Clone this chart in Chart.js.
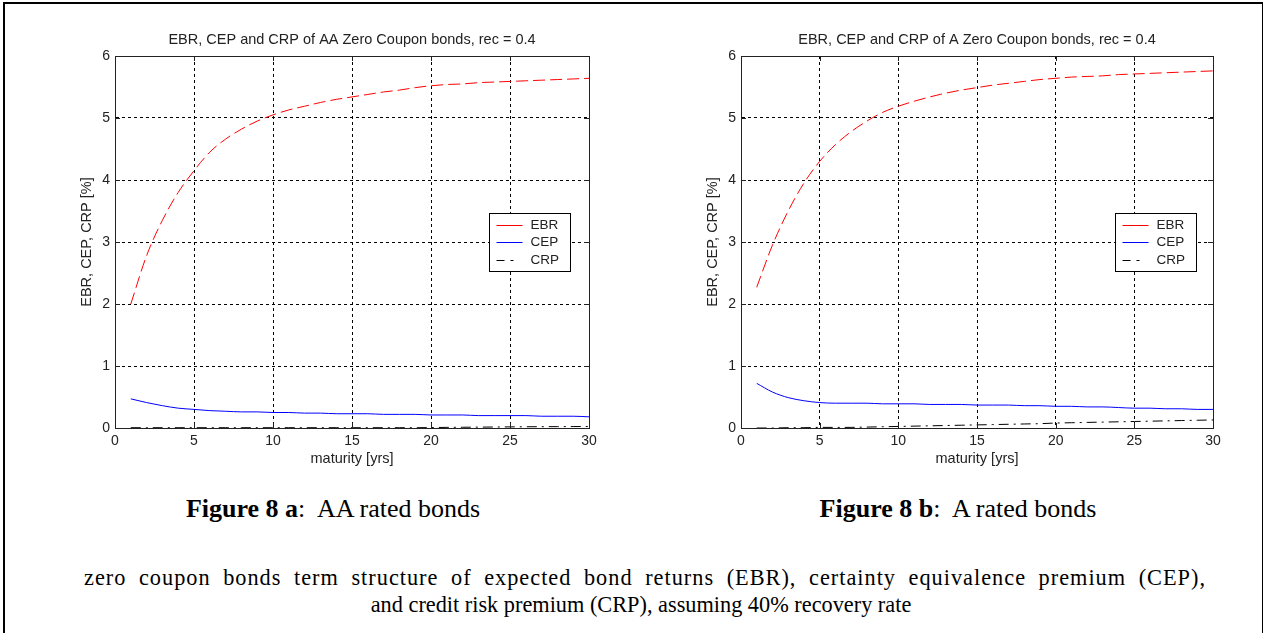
<!DOCTYPE html>
<html>
<head>
<meta charset="utf-8">
<script src="https://cdn.jsdelivr.net/npm/chart.js@4/dist/chart.umd.min.js"></script>
<style>
  body { margin:0; background:#fff; width:1266px; height:633px; position:relative; overflow:hidden; }
  #frame { position:absolute; left:3px; top:2px; width:1257px; height:640px;
           border-left:2px solid #000; border-top:2px solid #000; border-right:1px solid #000; }
  canvas { position:absolute; }
  #c1 { left:40px; top:20px; }
  #c2 { left:666px; top:20px; }
  .cap { position:absolute; font-family:"Times New Roman","Liberation Serif",serif; font-size:22.3px;
         color:#000; white-space:nowrap; }
  .mid { transform:translateX(-50%); }
  .fig { font-size:26px; top:494px; }
  #line1 { left:84px; width:1122px; top:565px; white-space:normal; letter-spacing:1px;
           text-align:justify; text-align-last:justify; }
</style>
</head>
<body>
<div id="frame"></div>
<canvas id="c1" width="624" height="460"></canvas>
<canvas id="c2" width="622" height="460"></canvas>
<div class="cap mid fig" style="left:333px;"><b>Figure 8 a</b>:&nbsp; AA rated bonds</div>
<div class="cap mid fig" style="left:958px;"><b>Figure 8 b</b>:&nbsp; A rated bonds</div>
<div class="cap" id="line1">zero coupon bonds term structure of expected bond returns (EBR), certainty equivalence premium (CEP),</div>
<div class="cap mid" style="left:641px; top:592px;">and credit risk premium (CRP), assuming 40% recovery rate</div>

<script>
// data
const maturities = [1,2,3,4,5,6,7,8,9,10,11,12,13,14,15,16,17,18,19,20,21,22,23,24,25,26,27,28,29,30];
const seriesNames = ['EBR', 'CEP', 'CRP'];

const aaEbr = [2.00,2.78,3.35,3.80,4.15,4.45,4.66,4.82,4.95,5.05,5.13,5.19,5.25,5.30,5.34,5.38,5.42,5.45,5.49,5.52,5.54,5.55,5.57,5.58,5.59,5.60,5.61,5.62,5.63,5.64];
const aaCep = [0.47,0.41,0.36,0.32,0.30,0.28,0.27,0.26,0.26,0.25,0.25,0.24,0.24,0.23,0.23,0.23,0.22,0.22,0.22,0.21,0.21,0.21,0.20,0.20,0.20,0.20,0.19,0.19,0.19,0.18];
const aaCrp = [0.005,0.005,0.005,0.005,0.005,0.005,0.005,0.005,0.005,0.005,0.005,0.005,0.005,0.005,0.005,0.005,0.005,0.005,0.005,0.007,0.01,0.012,0.014,0.016,0.018,0.02,0.021,0.022,0.023,0.025];

const aEbr = [2.27,2.95,3.50,3.95,4.30,4.57,4.78,4.95,5.09,5.19,5.27,5.34,5.40,5.45,5.49,5.53,5.56,5.59,5.62,5.64,5.66,5.67,5.68,5.70,5.71,5.72,5.73,5.74,5.75,5.76];
const aCep = [0.72,0.58,0.49,0.44,0.41,0.40,0.40,0.40,0.39,0.39,0.39,0.38,0.38,0.38,0.37,0.37,0.37,0.36,0.36,0.35,0.35,0.34,0.34,0.33,0.32,0.32,0.31,0.31,0.30,0.30];
const aCrp = [0.00,0.00,0.005,0.005,0.01,0.01,0.01,0.015,0.02,0.025,0.03,0.035,0.04,0.045,0.05,0.055,0.06,0.065,0.07,0.08,0.085,0.09,0.095,0.10,0.105,0.11,0.115,0.12,0.125,0.13];

const xTicks = [0,5,10,15,20,25,30];
const yTicks = [0,1,2,3,4,5,6];

const sansFont = '"Liberation Sans", Arial, Helvetica, sans-serif';
const lineColors = ['#ff0000', '#0000ff', '#000000'];
const legendDash = [[], [], [8, 6, 3, 20]];

function pts(vals) {
  return maturities.map((m, i) => ({x: m, y: vals[i]}));
}

// title over the plot area, box round it, inward ticks and the legend inside
const matlabAxes = {
  id: 'matlabAxes',
  afterDraw(chart, args, opts) {
    const ctx = chart.ctx;
    const a = chart.chartArea;
    const xs = chart.scales.x, ys = chart.scales.y;
    ctx.save();

    ctx.fillStyle = '#222';
    ctx.font = '14.5px ' + sansFont;
    ctx.textAlign = 'center';
    ctx.textBaseline = 'middle';
    ctx.fillText(opts.title, (a.left + a.right) / 2, 20);
    ctx.textAlign = 'left';

    ctx.strokeStyle = '#222';
    ctx.lineWidth = 1;
    ctx.setLineDash([]);
    ctx.strokeRect(Math.round(a.left) + 0.5, Math.round(a.top) + 0.5,
                   Math.round(a.right - a.left), Math.round(a.bottom - a.top));
    ctx.beginPath();
    xTicks.forEach(v => {
      const px = Math.round(xs.getPixelForValue(v)) + 0.5;
      ctx.moveTo(px, a.bottom); ctx.lineTo(px, a.bottom - 5);
      ctx.moveTo(px, a.top); ctx.lineTo(px, a.top + 5);
    });
    yTicks.forEach(v => {
      const py = Math.round(ys.getPixelForValue(v)) + 0.5;
      ctx.moveTo(a.left, py); ctx.lineTo(a.left + 5, py);
      ctx.moveTo(a.right, py); ctx.lineTo(a.right - 5, py);
    });
    ctx.stroke();

    // legend
    const w = 81, h = 58;
    const lx = Math.round(a.right - opts.right - w) + 0.5;
    const ly = Math.round(a.top + 157) + 0.5;
    ctx.fillStyle = '#fff';
    ctx.fillRect(lx, ly, w, h);
    ctx.strokeStyle = '#000';
    ctx.strokeRect(lx, ly, w, h);
    ctx.font = '13.5px ' + sansFont;
    chart.data.datasets.forEach((ds, i) => {
      const y = Math.round(ly + 11 + i * 17.5) + 0.5;
      ctx.strokeStyle = lineColors[i];
      ctx.setLineDash(legendDash[i]);
      ctx.beginPath();
      ctx.moveTo(lx + 7, y); ctx.lineTo(lx + 33, y);
      ctx.stroke();
      ctx.fillStyle = '#222';
      ctx.fillText(ds.label, lx + 41, y);
    });
    ctx.restore();
  }
};

function makeChart(id, title, ebr, cep, crp, legendRight) {
  const axisFont = { family: sansFont, size: 14.5, lineHeight: 1.2 };
  return new Chart(document.getElementById(id), {
    type: 'line',
    data: {
      datasets: [
        {label: seriesNames[0], data: pts(ebr), borderColor: lineColors[0], borderDash: [12, 5]},
        {label: seriesNames[1], data: pts(cep), borderColor: lineColors[1], borderDash: []},
        {label: seriesNames[2], data: pts(crp), borderColor: lineColors[2], borderDash: [10, 5, 2, 5]}
      ]
    },
    options: {
      responsive: false,
      animation: false,
      devicePixelRatio: 1,
      layout: { padding: {left: 0, right: 75, top: 36, bottom: 0} },
      elements: {
        point: { radius: 0 },
        line: { borderWidth: 1, cubicInterpolationMode: 'monotone', fill: false }
      },
      plugins: {
        legend: { display: false },
        tooltip: { enabled: false },
        title: { display: false },
        matlabAxes: { right: legendRight, title: title }
      },
      scales: {
        x: {
          type: 'linear',
          min: 0, max: 30,
          afterFit(s) { s.height = 52; },
          afterBuildTicks(s) { s.ticks = xTicks.map(v => ({value: v})); },
          ticks: { color: '#222', padding: 4.6, maxRotation: 0,
                   font: { family: sansFont, size: 14, lineHeight: 1.2 } },
          grid: { color: '#000', lineWidth: 1, drawTicks: false },
          border: { display: true, color: '#222', dash: [3, 3] },
          title: { display: true, text: 'maturity [yrs]', color: '#222', font: axisFont,
                   padding: { top: 0, bottom: 12.3 } }
        },
        y: {
          type: 'linear',
          min: 0, max: 6,
          afterFit(s) { s.width = 75; },
          afterBuildTicks(s) { s.ticks = yTicks.map(v => ({value: v})); },
          ticks: { color: '#222', padding: 5,
                   font: { family: sansFont, size: 14, lineHeight: 1.2 } },
          grid: { color: '#000', lineWidth: 1, drawTicks: false },
          border: { display: true, color: '#222', dash: [3, 3] },
          title: { display: true, text: 'EBR, CEP, CRP [%]', color: '#222', font: axisFont,
                   padding: { top: 38.3, bottom: 0 } }
        }
      }
    },
    plugins: [matlabAxes]
  });
}

makeChart('c1', 'EBR, CEP and CRP of AA Zero Coupon bonds, rec = 0.4', aaEbr, aaCep, aaCrp, 19);
makeChart('c2', 'EBR, CEP and CRP of A Zero Coupon bonds, rec = 0.4', aEbr, aCep, aCrp, 17);
</script>
</body>
</html>
